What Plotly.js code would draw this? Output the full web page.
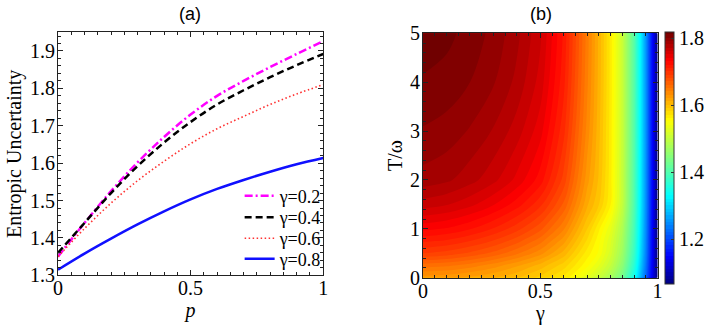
<!DOCTYPE html>
<html><head><meta charset="utf-8">
<script src="https://cdn.plot.ly/plotly-3.0.1.min.js"></script>
<style>html,body{margin:0;padding:0;background:#fff}</style>
</head><body><div id="chart"></div>
<script>
// ---- Panel (a): entropic uncertainty vs p ----
const pVals   = [0, 0.1, 0.2, 0.3, 0.4, 0.5, 0.6, 0.7, 0.8, 0.9, 1.0];
const euG02   = [1.35, 1.44, 1.525, 1.602, 1.67, 1.73, 1.78, 1.82, 1.857, 1.892, 1.926];
const euG04   = [1.36, 1.44, 1.52, 1.592, 1.655, 1.71, 1.757, 1.795, 1.83, 1.862, 1.892];
const euG06   = [1.35, 1.425, 1.493, 1.553, 1.605, 1.652, 1.692, 1.725, 1.757, 1.785, 1.81];
const euG08   = [1.315, 1.358, 1.398, 1.436, 1.471, 1.503, 1.531, 1.555, 1.577, 1.597, 1.614];
const legendNames = ["γ=0.2", "γ=0.4", "γ=0.6", "γ=0.8"];

// ---- Panel (b): map over gamma (x) and T/omega (y) ----
const gammaGrid = [0, 0.1, 0.2, 0.3, 0.4, 0.5, 0.6, 0.7, 0.75, 0.8, 0.85, 0.9, 0.95, 1.0];
const tGrid     = [0, 0.25, 0.5, 0.75, 1, 1.5, 2, 3, 4, 5];
const zT0   = [1.625,1.623,1.618,1.611,1.601,1.587,1.568,1.53,1.505,1.475,1.43,1.345,1.22,1.07];
const zT025 = [1.655,1.652,1.645,1.635,1.622,1.606,1.585,1.553,1.53,1.50,1.452,1.365,1.232,1.07];
const zT05  = [1.69,1.686,1.678,1.667,1.652,1.634,1.606,1.565,1.548,1.515,1.466,1.378,1.24,1.07];
const zT075 = [1.712,1.708,1.70,1.689,1.674,1.654,1.624,1.578,1.553,1.522,1.474,1.385,1.243,1.07];
const zT1   = [1.733,1.729,1.721,1.709,1.694,1.673,1.641,1.59,1.562,1.532,1.482,1.39,1.246,1.07];
const zT15  = [1.765,1.761,1.753,1.741,1.725,1.703,1.668,1.612,1.59,1.56,1.50,1.398,1.25,1.07];
const zT2   = [1.786,1.782,1.774,1.763,1.747,1.725,1.686,1.624,1.598,1.564,1.502,1.40,1.252,1.07];
const zT3   = [1.799,1.796,1.789,1.779,1.765,1.744,1.703,1.636,1.603,1.565,1.504,1.403,1.254,1.07];
const zT4   = [1.809,1.806,1.80,1.791,1.777,1.756,1.713,1.642,1.606,1.566,1.505,1.404,1.254,1.07];
const zT5   = [1.815,1.813,1.806,1.797,1.783,1.762,1.718,1.645,1.607,1.566,1.505,1.405,1.255,1.07];
const zRows = [zT0, zT025, zT05, zT075, zT1, zT15, zT2, zT3, zT4, zT5];

const W = 708, H = 325;
const SERIF = "Liberation Serif";
const SANS = "Liberation Sans";
const jet = [[0,'rgb(0,0,128)'],[0.11,'rgb(0,0,255)'],[0.35,'rgb(0,255,255)'],[0.5,'rgb(128,255,128)'],
             [0.65,'rgb(255,255,0)'],[0.89,'rgb(255,0,0)'],[1,'rgb(112,0,0)']];

const lineTrace = (y, name, color, dash, width, leg) => ({
  x: pVals, y: y, name: name, type: 'scatter', mode: 'lines', legend: leg,
  line: {color: color, dash: dash, width: width, shape: 'spline'}, xaxis: 'x', yaxis: 'y'
});

const data = [
  lineTrace(euG02, legendNames[0], '#ff00ff', '8px,3px,2px,3px', 2.5, 'legend'),
  lineTrace(euG04, legendNames[1], '#000000', '7px,4px', 2.5, 'legend2'),
  lineTrace(euG06, legendNames[2], '#ff3030', '1.5px,2.5px', 1.6, 'legend3'),
  lineTrace(euG08, legendNames[3], '#1010ff', 'solid', 2.5, 'legend4'),
  {
    type: 'contour', x: gammaGrid, y: tGrid, z: zRows, xaxis: 'x2', yaxis: 'y2',
    colorscale: jet, zmin: 1.066, zmax: 1.817, zauto: false,
    autocontour: false, contours: {start: 1.07, end: 1.81, size: 0.01, coloring: 'fill', showlines: false},
    line: {width: 0}, showlegend: false,
    colorbar: {
      x: 668.5/W, xanchor: 'left', thickness: 9, len: 252/H, lenmode: 'fraction',
      y: (H-284.3)/H, yanchor: 'bottom', xpad: 0, ypad: 0, outlinewidth: 1, outlinecolor: '#333',
      tickvals: [1.2, 1.4, 1.6, 1.8], ticktext: ['1.2','1.4','1.6','1.8'],
      ticks: 'inside', ticklen: 3, tickcolor: '#333',
      tickfont: {family: SERIF, size: 20, color: '#000'}
    }
  }
];

function axis(extra) {
  return Object.assign({
    showgrid: false, zeroline: false, showline: true, linecolor: '#222', linewidth: 1,
    mirror: 'allticks', ticks: 'inside', ticklen: 5, tickcolor: '#222',
    tickfont: {family: SERIF, size: 20, color: '#000'}
  }, extra);
}
function legendAt(yc) {
  return {
    x: 241/W, y: (H-yc)/H, xanchor: 'left', yanchor: 'middle',
    bgcolor: 'rgba(0,0,0,0)', borderwidth: 0,
    font: {family: SERIF, size: 18, color: '#000'}
  };
}

const layout = {
  width: W, height: H, margin: {l: 0, r: 0, t: 0, b: 0},
  font: {family: SERIF, size: 18, color: '#000'},
  paper_bgcolor: '#fff', plot_bgcolor: '#fff', showlegend: true,
  xaxis: axis({
    domain: [58.3/W, 325/W], range: [0, 1], anchor: 'y', ticklabelstandoff: -5,
    tickvals: [0, 0.5, 1], ticktext: ['0', '0.5', '1'],
    minor: {dtick: 0.05, ticks: 'inside', ticklen: 3, tickcolor: '#222'},
    title: {text: '<i>p</i>', font: {family: SERIF, size: 20, color: '#000'}, standoff: 0}
  }),
  yaxis: axis({
    domain: [(H-275.3)/H, (H-32.3)/H], range: [1.3, 1.95], anchor: 'x', ticklabelstandoff: -2,
    tickvals: [1.3,1.4,1.5,1.6,1.7,1.8,1.9], ticktext: ['1.3','1.4','1.5','1.6','1.7','1.8','1.9'],
    minor: {dtick: 0.02, tick0: 1.3, ticks: 'inside', ticklen: 3, tickcolor: '#222'},
    title: {text: 'Entropic Uncertainty', font: {family: SERIF, size: 20, color: '#000'}, standoff: 2}
  }),
  xaxis2: axis({
    domain: [425.5/W, 661.3/W], range: [0, 1], anchor: 'y2', ticklabelstandoff: -5,
    tickvals: [0, 0.5, 1], ticktext: ['0', '0.5', '1'],
    minor: {dtick: 0.05, ticks: 'inside', ticklen: 3, tickcolor: '#222'},
    title: {text: 'γ', font: {family: SERIF, size: 20, color: '#000'}, standoff: 0}
  }),
  yaxis2: axis({
    domain: [(H-277.7)/H, (H-33.3)/H], range: [0, 5], anchor: 'x2', ticklabelstandoff: -2,
    tickvals: [0,1,2,3,4,5], ticktext: ['0','1','2','3','4','5'],
    minor: {dtick: 0.2, ticks: 'inside', ticklen: 3, tickcolor: '#222'},
    title: {text: 'T/ω', font: {family: SERIF, size: 20, color: '#000'}, standoff: 2}
  }),
  legend: legendAt(196),
  legend2: legendAt(217.5),
  legend3: legendAt(238.5),
  legend4: legendAt(259),
  annotations: [
    {text: '(a)', x: 191/W, y: (H-14)/H, xref: 'paper', yref: 'paper', showarrow: false,
     xanchor: 'center', yanchor: 'middle', font: {family: SANS, size: 18, color: '#000'}},
    {text: '(b)', x: 544/W, y: (H-14)/H, xref: 'paper', yref: 'paper', showarrow: false,
     xanchor: 'center', yanchor: 'middle', font: {family: SANS, size: 18, color: '#000'}}
  ]
};

Plotly.newPlot('chart', data, layout, {displayModeBar: false, staticPlot: true});
</script></body></html>
